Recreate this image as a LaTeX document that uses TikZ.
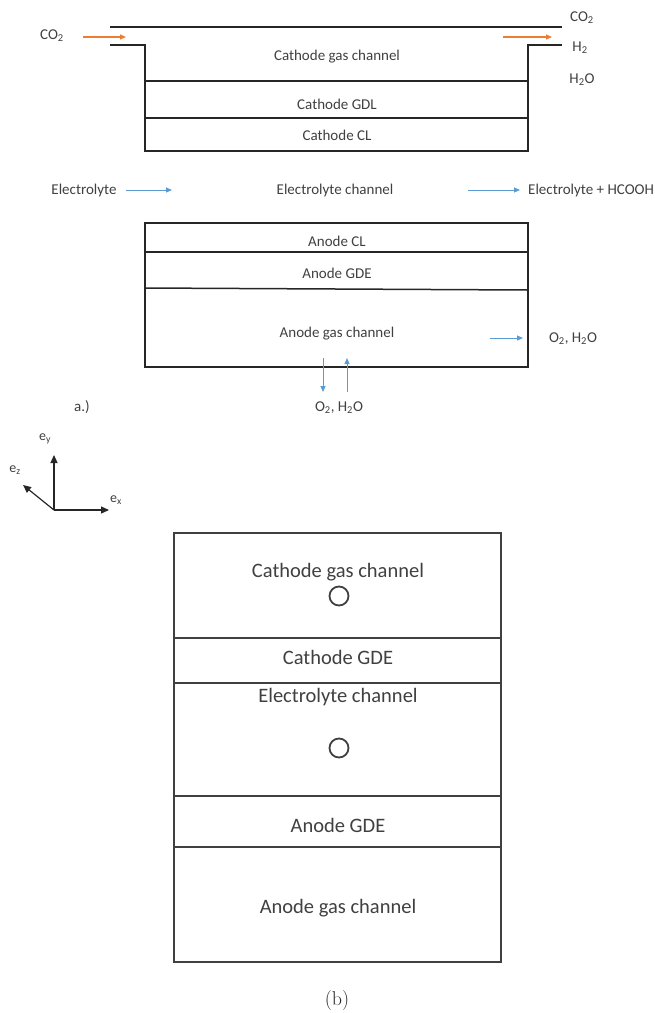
\documentclass[tikz,border=0pt]{standalone}
\usepackage{fontspec}
\usepackage{tikz}
\usetikzlibrary{arrows.meta}
\newfontfamily\calib{Carlito}
\definecolor{feedor}{RGB}{237,125,49}
\definecolor{flowbl}{RGB}{91,155,213}
\definecolor{txtgr}{RGB}{64,64,64}
\tikzstyle{lbl}=[font=\calib\fontsize{15}{17}\selectfont,text=txtgr,inner sep=0pt]
\tikzstyle{bigl}=[font=\calib\fontsize{20.5}{24}\selectfont,text=txtgr,inner sep=0pt]
\tikzstyle{axl}=[font=\calib\fontsize{14}{16}\selectfont,text=txtgr,inner sep=0pt]
\tikzstyle{wall}=[line width=1.5pt,black!85]
\tikzstyle{bwall}=[line width=2pt,txtgr]
\tikzstyle{feed}=[line width=1.2pt,feedor,-{Triangle[length=6pt,width=5pt]}]
\tikzstyle{flow}=[line width=1pt,flowbl,-{Triangle[length=6pt,width=5pt]}]
\tikzstyle{axis}=[line width=1.2pt,black!85,-{Triangle[length=8pt,width=7pt]}]
\tikzstyle{port}=[circle,draw=txtgr,line width=1.8pt,minimum size=19pt,inner sep=0pt]

\begin{document}
\begin{tikzpicture}[x=1pt,y=-1pt]
    \useasboundingbox (0,0) rectangle (654,1013);
    % cathode side, top
    \draw[wall] (110,27) -- (562,27);
    \draw[wall] (110,45) -- (145,45) -- (145,151) -- (528,151) -- (528,45) -- (562,45);
    \draw[wall] (145,81) -- (528,81);
    \draw[wall] (145,118) -- (528,118);
    \node[lbl] (CIN) at (52,36) {CO\textsubscript{2}};
    \node[lbl] (COUT) at (582,18) {CO\textsubscript{2}};
    \node[lbl] (HOUT) at (580,48) {H\textsubscript{2}};
    \node[lbl] (WOUT) at (582,80) {H\textsubscript{2}O};
    \node[lbl] (CGC) at (337,57) {Cathode gas channel};
    \node[lbl] (CGDL) at (337,104) {Cathode GDL};
    \node[lbl] (CCL) at (337,135) {Cathode CL};
    \coordinate (F1) at (83,37);
    \coordinate (F2) at (126,37);
    \coordinate (F3) at (503,37);
    \coordinate (F4) at (552,37);
    \draw[feed] (F1) -- (F2);
    \draw[feed] (F3) -- (F4);
	% electrolyte
    \node[lbl] (EL) at (84,190) {Electrolyte};
    \node[lbl] (ELC) at (335,190) {Electrolyte channel};
    \node[lbl,anchor=west] (ELH) at (528,190) {Electrolyte + HCOOH};
    \coordinate (E1) at (126,190);
    \coordinate (E2) at (172,190);
    \coordinate (E3) at (468,190);
    \coordinate (E4) at (520,190);
    \draw[flow] (E1) -- (E2);
    \draw[flow] (E3) -- (E4);
    % anode side
    \draw[wall] (145,223) rectangle (528,367);
    \draw[wall] (145,252) -- (528,252);
    \draw[wall] (145,288) -- (528,290);
    \node[lbl] (ACL) at (337,241) {Anode CL};
    \node[lbl] (AGDE) at (337,273) {Anode GDE};
    \node[lbl] (AGC) at (337,334) {Anode gas channel};
    \node[lbl] (OHR) at (573,339) {O\textsubscript{2}, H\textsubscript{2}O};
    \node[lbl] (OHB) at (339,408) {O\textsubscript{2}, H\textsubscript{2}O};
    \node[lbl] (LA) at (82,407) {a.)};
    \coordinate (A1) at (490,338);
    \coordinate (A2) at (523,338);
    \coordinate (A3) at (323,358);
    \coordinate (A4) at (323,392);
    \coordinate (A5) at (347,392);
    \coordinate (A6) at (347,358);
    \draw[flow] (A1) -- (A2);
    \draw[flow] (A3) -- (A4);
    \draw[flow] (A5) -- (A6);
    % axes
    \coordinate (O) at (54,510);
    \node[axl] (EY) at (45,439) {e\textsubscript{y}};
    \node[axl] (EZ) at (15,470) {e\textsubscript{z}};
    \node[axl] (EX) at (116,500) {e\textsubscript{x}};
    \coordinate (AY) at (54,455);
    \coordinate (AX) at (109,510);
    \coordinate (AZ) at (23,485);
    \draw[axis] (O) -- (AY);
    \draw[axis] (O) -- (AX);
    \draw[axis] (O) -- (AZ);
	% cross section
    \draw[bwall] (174,533) rectangle (501,962);
    \foreach \yy in {638,683,796,847}
        \draw[bwall] (174,\yy) -- (501,\yy);
    \node[bigl] (BCGC) at (338,572) {Cathode gas channel};
    \node[port] (BP1) at (339,596) {};
    \node[bigl] (BCGDE) at (338,657) {Cathode GDE};
    \node[bigl] (BELC) at (338,697) {Electrolyte channel};
    \node[port] (BP2) at (339,748) {};
    \node[bigl] (BAGDE) at (338,825) {Anode GDE};
    \node[bigl] (BAGC) at (338,908) {Anode gas channel};
    \node[font=\fontsize{20}{24}\selectfont,text=black!85,inner sep=0pt] (LB) at (337,1000) {(b)};
\end{tikzpicture}
\end{document}
